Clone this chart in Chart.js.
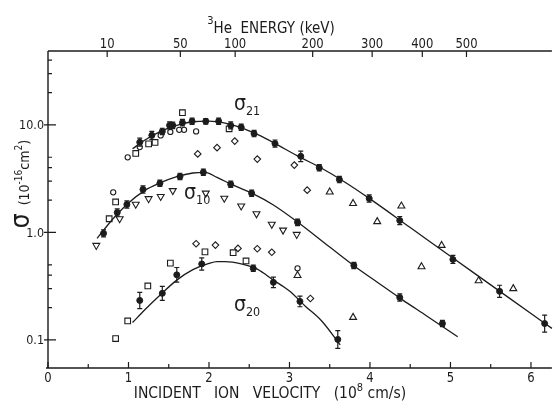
<!DOCTYPE html>
<html>
<head>
<meta charset="utf-8">
<script src="https://cdn.jsdelivr.net/npm/chart.js@4.4.1/dist/chart.umd.min.js"></script>
<style>
  html, body { margin: 0; padding: 0; background: #fff; }
</style>
</head>
<body>
<canvas id="chart" width="557" height="402"></canvas>
<script>
// --- velocity in 10^8 cm/s, cross section in 10^-16 cm^2 ---

// filled points with error bars (relative error)
const s21Vel = [1.14, 1.29, 1.42, 1.51, 1.55, 1.67, 1.79, 1.96, 2.12, 2.27, 2.40, 2.56, 2.82, 3.14, 3.37, 3.62, 3.99, 4.37, 5.03, 5.61, 6.17];
const s21Sig = [6.9, 8.0, 8.7, 9.9, 9.9, 10.5, 10.8, 10.8, 10.8, 9.9, 9.5, 8.3, 6.7, 5.1, 4.0, 3.1, 2.07, 1.29, 0.56, 0.283, 0.142];
const s21Err = [0.09, 0.09, 0.07, 0.08, 0.07, 0.07, 0.07, 0.06, 0.07, 0.08, 0.07, 0.07, 0.08, 0.12, 0.07, 0.07, 0.08, 0.09, 0.09, 0.14, 0.2];

const s10Vel = [0.69, 0.86, 0.98, 1.18, 1.39, 1.64, 1.93, 2.27, 2.53, 3.10, 3.80, 4.37, 4.90];
const s10Sig = [0.98, 1.53, 1.82, 2.51, 2.86, 3.32, 3.62, 2.80, 2.31, 1.24, 0.493, 0.248, 0.142];
const s10Err = [0.08, 0.08, 0.08, 0.08, 0.07, 0.07, 0.07, 0.07, 0.07, 0.07, 0.07, 0.08, 0.07];

const s20Vel = [1.14, 1.42, 1.60, 1.91, 2.55, 2.80, 3.13, 3.60];
const s20Sig = [0.233, 0.271, 0.403, 0.509, 0.463, 0.343, 0.228, 0.101];
const s20Err = [0.19, 0.16, 0.17, 0.14, 0.07, 0.12, 0.12, 0.21];

// fitted curves
const c21Vel = [1.05, 1.2, 1.4, 1.6, 1.8, 2.0, 2.2, 2.4, 2.6, 2.8, 3.1, 3.4, 3.7, 4.0, 4.5, 5.0, 5.5, 6.0, 6.26];
const c21Sig = [6.0, 7.2, 8.7, 9.9, 10.7, 10.85, 10.4, 9.45, 8.15, 6.85, 5.15, 3.95, 2.9, 2.05, 1.11, 0.60, 0.325, 0.176, 0.128];
const c10Vel = [0.61, 0.8, 1.0, 1.2, 1.4, 1.6, 1.8, 1.95, 2.1, 2.3, 2.55, 2.8, 3.1, 3.5, 3.8, 4.1, 4.4, 4.7, 5.09];
const c10Sig = [0.88, 1.32, 1.88, 2.45, 2.9, 3.3, 3.57, 3.62, 3.25, 2.75, 2.28, 1.8, 1.25, 0.73, 0.49, 0.34, 0.237, 0.168, 0.107];
const c20Vel = [1.05, 1.2, 1.4, 1.6, 1.8, 2.0, 2.1, 2.2, 2.4, 2.6, 2.8, 3.0, 3.2, 3.4, 3.63];
const c20Sig = [0.145, 0.19, 0.265, 0.36, 0.45, 0.515, 0.535, 0.535, 0.51, 0.455, 0.36, 0.285, 0.205, 0.15, 0.09];

// open symbols (other measurements)
const sqVel = [1.67, 1.09, 1.25, 1.33, 2.25, 0.84, 0.76, 0.84, 0.99, 1.24, 1.52, 1.95, 2.30, 2.46];
const sqSig = [13.0, 5.43, 6.66, 6.87, 9.2, 1.92, 1.34, 0.103, 0.150, 0.318, 0.518, 0.659, 0.647, 0.543];
const ciVel = [0.99, 1.14, 1.40, 1.52, 1.63, 1.69, 1.84, 0.81, 3.10];
const ciSig = [4.99, 6.22, 7.99, 8.6, 9.0, 9.0, 8.7, 2.36, 0.463];
const diVel = [1.86, 2.10, 2.32, 2.60, 3.06, 3.22, 1.84, 2.08, 2.36, 2.60, 2.78, 3.26];
const diSig = [5.37, 6.14, 7.07, 4.81, 4.23, 2.47, 0.785, 0.762, 0.710, 0.705, 0.654, 0.243];
const dnVel = [0.60, 0.89, 1.09, 1.25, 1.40, 1.55, 1.96, 2.19, 2.40, 2.59, 2.78, 2.92, 3.09];
const dnSig = [0.757, 1.34, 1.83, 2.06, 2.16, 2.45, 2.32, 2.08, 1.76, 1.49, 1.19, 1.05, 0.958];
const upVel = [3.50, 3.79, 4.09, 4.39, 4.64, 4.89, 5.35, 5.78, 3.79, 3.10];
const upSig = [2.38, 1.86, 1.26, 1.76, 0.48, 0.757, 0.355, 0.300, 0.162, 0.398];

// axes
const velTicks = [0, 1, 2, 3, 4, 5, 6];
const sigTicks = [0.1, 1, 10];
const sigTickLabels = ['0.1', '1.0', '10.0'];
const sigMinorTicks = [0.2, 0.3, 0.4, 0.5, 2, 3, 4, 5, 20, 30, 40];
const energyTicks = [10, 50, 100, 200, 300, 400, 500];
const VEL_PER_SQRT_KEV = 0.2325;

const INK = '#1c1c1c';
const FACE = '"DejaVu Sans", "Liberation Sans", sans-serif';

const pts = (xs, ys) => xs.map((x, i) => ({ x: x, y: ys[i] }));

function curve(xs, ys) {
    return { type: 'line', data: pts(xs, ys), borderColor: INK, borderWidth: 1.3,
        pointRadius: 0, fill: false, cubicInterpolationMode: 'monotone', clip: false };
}
function filled(xs, ys, err) {
    return { type: 'scatter', data: pts(xs, ys), err: err, pointStyle: 'circle',
        pointRadius: 3, backgroundColor: INK, borderColor: INK, borderWidth: 1, clip: false };
}
function open(xs, ys, style, r, rot) {
    return { type: 'scatter', data: pts(xs, ys), pointStyle: style, pointRadius: r,
        pointRotation: rot || 0, backgroundColor: 'rgba(0,0,0,0)', borderColor: INK, borderWidth: 1.1, clip: false };
}

// squeezed text, returns drawn width
function txt(ctx, s, x, y, size, align, sq) {
    sq = sq || 0.86;
    ctx.save();
    ctx.font = size + 'px ' + FACE;
    const w = ctx.measureText(s).width * sq;
    let x0 = x;
    if (align === 'center') x0 = x - w / 2;
    if (align === 'right') x0 = x - w;
    ctx.translate(x0, y);
    ctx.scale(sq, 1);
    ctx.textAlign = 'left';
    ctx.textBaseline = 'alphabetic';
    ctx.fillText(s, 0, 0);
    ctx.restore();
    return w;
}
// runs of text with super/subscripts, centred on cx
function runs(ctx, parts, cx, y, sq) {
    sq = sq || 0.86;
    const widths = parts.map(p => { ctx.font = p.size + 'px ' + FACE; return ctx.measureText(p.s).width * sq; });
    let x = cx - widths.reduce((a, b) => a + b, 0) / 2;
    parts.forEach((p, i) => { txt(ctx, p.s, x, y + (p.dy || 0), p.size, 'left', sq); x += widths[i]; });
}

const errorBars = {
    id: 'errorBars',
    afterDatasetsDraw(chart) {
        const ctx = chart.ctx, xs = chart.scales.x, ys = chart.scales.y;
        ctx.save();
        ctx.strokeStyle = INK;
        ctx.lineWidth = 1.2;
        chart.data.datasets.forEach(ds => {
            if (!ds.err) return;
            ds.data.forEach((p, i) => {
                const px = xs.getPixelForValue(p.x);
                const top = ys.getPixelForValue(p.y * (1 + ds.err[i]));
                const bot = ys.getPixelForValue(p.y / (1 + ds.err[i]));
                ctx.beginPath();
                ctx.moveTo(px, top); ctx.lineTo(px, bot);
                ctx.moveTo(px - 2.5, top); ctx.lineTo(px + 2.5, top);
                ctx.moveTo(px - 2.5, bot); ctx.lineTo(px + 2.5, bot);
                ctx.stroke();
            });
        });
        ctx.restore();
    }
};

const frame = {
    id: 'frame',
    afterDraw(chart) {
        const ctx = chart.ctx, a = chart.chartArea, xs = chart.scales.x, ys = chart.scales.y;
        ctx.save();
        ctx.strokeStyle = INK;
        ctx.fillStyle = INK;
        ctx.lineWidth = 1.4;
        ctx.beginPath();
        ctx.moveTo(a.left, a.top); ctx.lineTo(a.right, a.top);
        ctx.moveTo(a.left, a.top); ctx.lineTo(a.left, a.bottom);
        ctx.moveTo(a.left - 2, a.bottom); ctx.lineTo(a.right, a.bottom);
        ctx.stroke();

        ctx.lineWidth = 1.2;
        ctx.beginPath();
        // bottom: velocity
        velTicks.forEach(v => {
            const px = xs.getPixelForValue(v);
            ctx.moveTo(px, a.bottom); ctx.lineTo(px, a.bottom - 6);
            const m = xs.getPixelForValue(v + 0.5);
            if (m < a.right) { ctx.moveTo(m, a.bottom); ctx.lineTo(m, a.bottom - 4); }
        });
        // top: energy
        energyTicks.forEach(e => {
            const px = xs.getPixelForValue(VEL_PER_SQRT_KEV * Math.sqrt(e));
            ctx.moveTo(px, a.top); ctx.lineTo(px, a.top + 6);
        });
        // left: sigma
        sigTicks.forEach(s => {
            const py = ys.getPixelForValue(s);
            ctx.moveTo(a.left - 4, py); ctx.lineTo(a.left + 8, py);
        });
        sigMinorTicks.forEach(s => {
            const py = ys.getPixelForValue(s);
            ctx.moveTo(a.left, py); ctx.lineTo(a.left + 4, py);
        });
        ctx.stroke();

        velTicks.forEach(v => txt(ctx, String(v), xs.getPixelForValue(v), a.bottom + 14, 13.5, 'center'));
        energyTicks.forEach(e => txt(ctx, String(e), xs.getPixelForValue(VEL_PER_SQRT_KEV * Math.sqrt(e)), a.top - 3, 13.5, 'center'));
        sigTicks.forEach((s, i) => txt(ctx, sigTickLabels[i], a.left - 4, ys.getPixelForValue(s) + 4.5, 13, 'right'));

        // axis titles
        runs(ctx, [
            { s: '3', size: 11, dy: -9 },
            { s: 'He  ENERGY (keV)', size: 15 }
        ], 271, 33, 0.9);
        runs(ctx, [
            { s: 'INCIDENT   ION   VELOCITY   (10', size: 15.5 },
            { s: '8', size: 11, dy: -7 },
            { s: ' cm/s)', size: 15.5 }
        ], 270, 398, 0.9);

        ctx.save();
        ctx.translate(29, 184);
        ctx.rotate(-Math.PI / 2);
        runs(ctx, [
            { s: 'σ', size: 26 },
            { s: '  (10', size: 14 },
            { s: '-16', size: 10, dy: -7 },
            { s: 'cm', size: 14 },
            { s: '2', size: 10, dy: -7 },
            { s: ')', size: 14 }
        ], 0, 0, 0.9);
        ctx.restore();

        // curve labels, anchored in data coordinates
        const label = (v, s, sub) => {
            const x = xs.getPixelForValue(v), y = ys.getPixelForValue(s);
            const w = txt(ctx, 'σ', x, y, 22, 'left');
            txt(ctx, sub, x + w, y + 5, 13, 'left');
        };
        label(2.31, 13.9, '21');
        label(1.69, 2.03, '10');
        label(2.31, 0.184, '20');
        ctx.restore();
    }
};

new Chart(document.getElementById('chart'), {
    type: 'scatter',
    data: {
        datasets: [
            curve(c21Vel, c21Sig),
            curve(c10Vel, c10Sig),
            curve(c20Vel, c20Sig),
            open(sqVel, sqSig, 'rect', 4),
            open(ciVel, ciSig, 'circle', 2.6),
            open(diVel, diSig, 'rectRot', 3.3),
            open(dnVel, dnSig, 'triangle', 4, 180),
            open(upVel, upSig, 'triangle', 4),
            filled(s21Vel, s21Sig, s21Err),
            filled(s10Vel, s10Sig, s10Err),
            filled(s20Vel, s20Sig, s20Err)
        ]
    },
    options: {
        responsive: false,
        animation: false,
        layout: { padding: { left: 48, top: 51, right: 0, bottom: 34 } },
        plugins: { legend: { display: false }, tooltip: { enabled: false } },
        scales: {
            x: { type: 'linear', min: 0, max: 6.26, display: false },
            y: { type: 'logarithmic', min: 0.0548, max: 48.7, display: false }
        }
    },
    plugins: [errorBars, frame]
});
</script>
</body>
</html>
